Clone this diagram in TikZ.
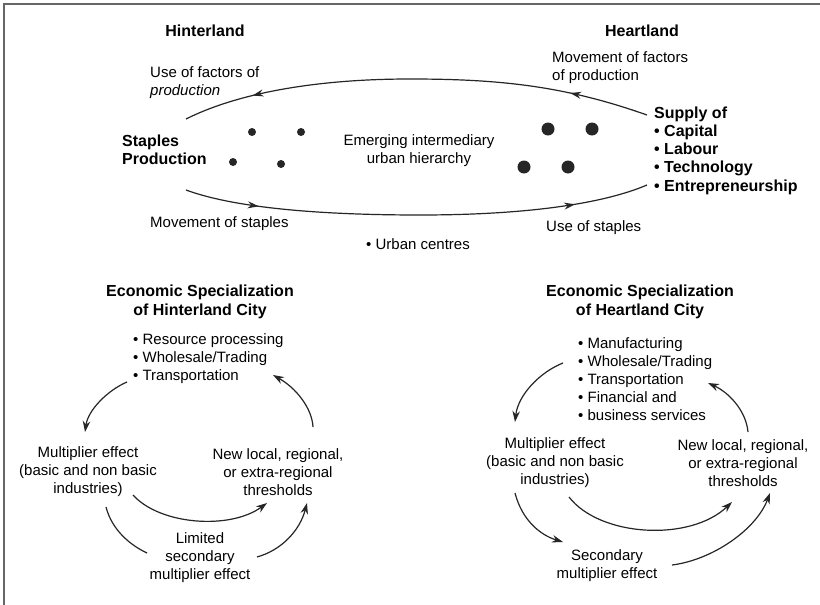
\documentclass[tikz,border=0pt]{standalone}
\usepackage{fontspec}
\setmainfont{Liberation Sans}
\usetikzlibrary{arrows.meta,decorations.markings}
\begin{document}
\begin{tikzpicture}[x=1pt,y=-1pt,
  txt/.style={inner sep=0pt,align=center,font=\fontsize{15}{18}\selectfont},
  txtl/.style={inner sep=0pt,align=left,anchor=west,font=\fontsize{15}{18}\selectfont},
  bld/.style={inner sep=0pt,align=center,font=\fontsize{16}{19}\selectfont\bfseries},
  bldl/.style={inner sep=0pt,align=left,anchor=west,font=\fontsize{16}{18.3}\selectfont\bfseries},
  tip/.style={-{Stealth[length=11pt,width=7.5pt]}},
  ln/.style={line width=1.2pt,draw=black!85},
  conn/.style={ln,tip},
  twoarrows/.style 2 args={postaction={decorate},decoration={markings,
     mark=at position #1 with {\arrow{Stealth[length=11pt,width=7pt]}},
     mark=at position #2 with {\arrow{Stealth[length=11pt,width=7pt]}}}},
  smalldot/.style={circle,fill=black!85,inner sep=0pt,minimum size=8pt},
  bigdot/.style={circle,fill=black!85,inner sep=0pt,minimum size=13pt},
  frameline/.style={line width=1.8pt,draw=black!60}
]
\useasboundingbox (0,0) rectangle (820,605);
\fill[white] (0,0) rectangle (820,605);
% frame (top and left edges only)
\coordinate (fTL) at (4,4);
\coordinate (fTR) at (820,4);
\coordinate (fBL) at (4,605);
\draw[frameline] (fTR) -- (fTL) -- (fBL);

% ---------- top part ----------
\node[bld] (hinter) at (205,31) {Hinterland};
\node[bld] (heart) at (642,31) {Heartland};

\node[txtl] (usefac) at (150,83) {Use of factors of\\\itshape production};
\node[txtl] (movfac) at (552,67.5) {Movement of factors\\of production};
\node[bldl] (staples) at (122,150) {Staples\\Production};
\node[bldl] (supply) at (654,150.5) {Supply of\\• Capital\\• Labour\\• Technology\\• Entrepreneurship};
\node[txt] (emerg) at (419,151) {Emerging intermediary\\urban hierarchy};
\node[txtl] (movst) at (150,224) {Movement of staples};
\node[txtl] (usest) at (546,228) {Use of staples};
\node[txtl] (urban) at (366,244) {• Urban centres};

% small dots (hinterland)
\node[smalldot] (s1) at (252,132) {};
\node[smalldot] (s2) at (301,132) {};
\node[smalldot] (s3) at (233,162) {};
\node[smalldot] (s4) at (281,164) {};
% big dots (heartland)
\node[bigdot] (b1) at (548,129) {};
\node[bigdot] (b2) at (592,129) {};
\node[bigdot] (b3) at (524,167) {};
\node[bigdot] (b4) at (568,167) {};

% arc end points
\coordinate (upR) at (647,115);
\coordinate (upL) at (186,119);
\coordinate (loL) at (186,190);
\coordinate (loR) at (647,185);

\draw[ln,twoarrows={0.17}{0.85}] (upR) .. controls (565,86) and (500,79) .. (410,79)
   .. controls (320,79) and (240,92) .. (upL);
\draw[ln,twoarrows={0.16}{0.84}] (loL) .. controls (235,208) and (320,215) .. (420,215)
   .. controls (520,215) and (600,205) .. (loR);

% ---------- bottom left ----------
\node[bld] (tleft) at (200,301.5) {Economic Specialization\\of Hinterland City};
\node[txtl] (lbul) at (133,359) {• Resource processing\\• Wholesale/Trading\\• Transportation};
\node[txt] (lmult) at (88,472) {Multiplier effect\\(basic and non basic\\industries)};
\node[txt] (lnew) at (278,472) {New local, regional,\\or extra-regional\\thresholds};
\node[txt] (llim) at (200,558) {Limited\\secondary\\multiplier effect};

\coordinate (la1) at (127,382);  \coordinate (la2) at (85,432);
\coordinate (lb1) at (313,427);  \coordinate (lb2) at (273,375);
\coordinate (lc1) at (133,495);  \coordinate (lc2) at (267,503);
\coordinate (ld1) at (106,507);  \coordinate (ld2) at (147,553);
\coordinate (le1) at (257,557);  \coordinate (le2) at (307,503);

\draw[conn] (la1) .. controls (108,390) and (88,410) .. (la2);
\draw[conn] (lb1) .. controls (312,408) and (296,388) .. (lb2);
\draw[conn] (lc1) .. controls (160,525) and (230,530) .. (lc2);
\draw[ln] (ld1) .. controls (112,530) and (130,545) .. (ld2);
\draw[conn] (le1) .. controls (282,550) and (300,530) .. (le2);

% ---------- bottom right ----------
\node[bld] (tright) at (640,301.5) {Economic Specialization\\of Heartland City};
\node[txtl] (rbul) at (578,379.5) {• Manufacturing\\• Wholesale/Trading\\• Transportation\\• Financial and\\• business services};
\node[txt] (rmult) at (555,463) {Multiplier effect\\(basic and non basic\\industries)};
\node[txt] (rnew) at (743,463) {New local, regional,\\or extra-regional\\thresholds};
\node[txt] (rsec) at (607,566) {Secondary\\multiplier effect};

\coordinate (ra1) at (563,363);  \coordinate (ra2) at (515,422);
\coordinate (rb1) at (748,432);  \coordinate (rb2) at (708,383);
\coordinate (rc1) at (569,497);  \coordinate (rc2) at (732,502);
\coordinate (rd1) at (515,493);  \coordinate (rd2) at (563,542);
\coordinate (re1) at (672,565);  \coordinate (re2) at (770,493);

\draw[conn] (ra1) .. controls (540,372) and (518,395) .. (ra2);
\draw[conn] (rb1) .. controls (746,410) and (728,392) .. (rb2);
\draw[conn] (rc1) .. controls (600,537) and (690,542) .. (rc2);
\draw[conn] (rd1) .. controls (522,520) and (540,535) .. (rd2);
\draw[conn] (re1) .. controls (712,560) and (756,530) .. (re2);
\end{tikzpicture}
\end{document}
